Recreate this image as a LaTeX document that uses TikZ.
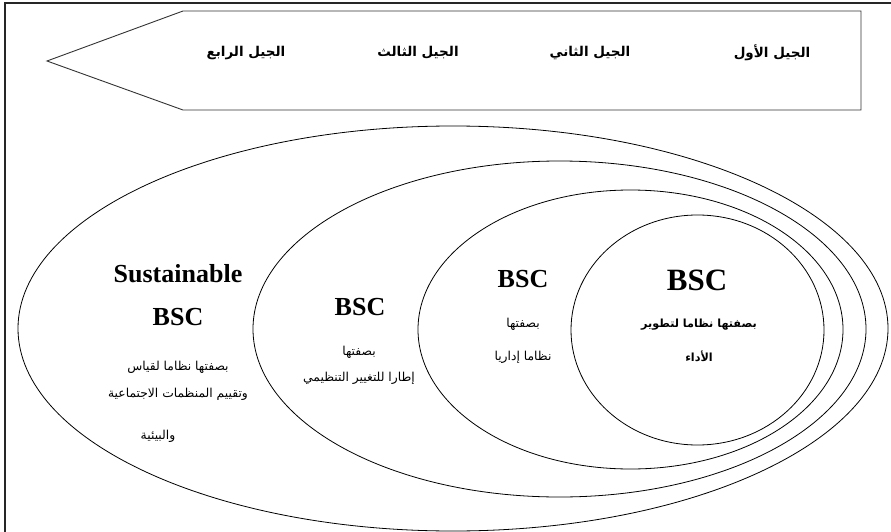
\documentclass[tikz,border=0pt]{standalone}
\usepackage{fontspec}
\setmainfont{Liberation Serif}
\newfontfamily\arfont[Script=Arabic]{DejaVu Sans}
\TeXXeTstate=1
\newcommand{\AR}[1]{\beginR #1\endR}
\begin{document}
\begin{tikzpicture}[x=1pt,y=-1pt,
  frameline/.style={line width=1.6pt,black!85},
  arrowshape/.style={line width=0.9pt,black!80,line join=miter},
  ring/.style={line width=0.8pt,black},
  genlabel/.style={font=\arfont\bfseries\fontsize{13.5}{15}\selectfont,inner sep=0pt},
  bsclabel/.style={font=\bfseries\fontsize{26}{30}\selectfont,inner sep=0pt,anchor=base},
  bigbsc/.style={font=\bfseries\fontsize{31}{34}\selectfont,inner sep=0pt,anchor=base},
  artext/.style={font=\arfont\fontsize{12.3}{14}\selectfont,inner sep=0pt},
  arbold/.style={font=\arfont\bfseries\fontsize{11.2}{13}\selectfont,inner sep=0pt}]
\useasboundingbox (0,0) rectangle (891,532);
% frame (only top and left edges visible)
\draw[frameline] (5,532) -- (5,3) -- (891,3);
% arrow pointing left
\draw[arrowshape] (47,61) -- (183,11) -- (861,11) -- (861,110) -- (183,110) -- cycle;
\node[genlabel] (gen1) at (772,53) {\AR{الجيل الأول}};
\node[genlabel] (gen2) at (590,53) {\AR{الجيل الثاني}};
\node[genlabel] (gen3) at (418,53) {\AR{الجيل الثالث}};
\node[genlabel] (gen4) at (246,53) {\AR{الجيل الرابع}};
% nested ellipses
\draw[ring] (453,328.5) ellipse [x radius=435, y radius=202.5];
\draw[ring] (559.5,329) ellipse [x radius=306.5, y radius=168];
\draw[ring] (630.5,329.5) ellipse [x radius=212.5, y radius=139.5];
\draw[ring] (697.5,330) ellipse [x radius=126.5, y radius=115];
% fourth generation
\node[bsclabel] (s4a) at (178,282) {Sustainable};
\node[bsclabel] (s4b) at (178,325) {BSC};
\node[artext] (s4c) at (178,367) {\AR{بصفتها نظاما لقياس}};
\node[artext] (s4d) at (178,394) {\AR{وتقييم المنظمات الاجتماعية}};
\node[artext] (s4e) at (158,436) {\AR{والبيئية}};
% third generation
\node[bsclabel] (s3a) at (360,315) {BSC};
\node[artext] (s3b) at (359,352) {\AR{بصفتها}};
\node[artext] (s3c) at (359,378) {\AR{إطارا للتغيير التنظيمي}};
% second generation
\node[bsclabel] (s2a) at (523,287) {BSC};
\node[artext] (s2b) at (523,324) {\AR{بصفتها}};
\node[artext] (s2c) at (523,357) {\AR{نظاما إداريا}};
% first generation
\node[bigbsc] (s1a) at (697,290) {BSC};
\node[arbold] (s1b) at (699,325) {\AR{بصفتها نظاما لتطوير}};
\node[arbold] (s1c) at (699,356) {\AR{الأداء}};
\end{tikzpicture}
\end{document}
